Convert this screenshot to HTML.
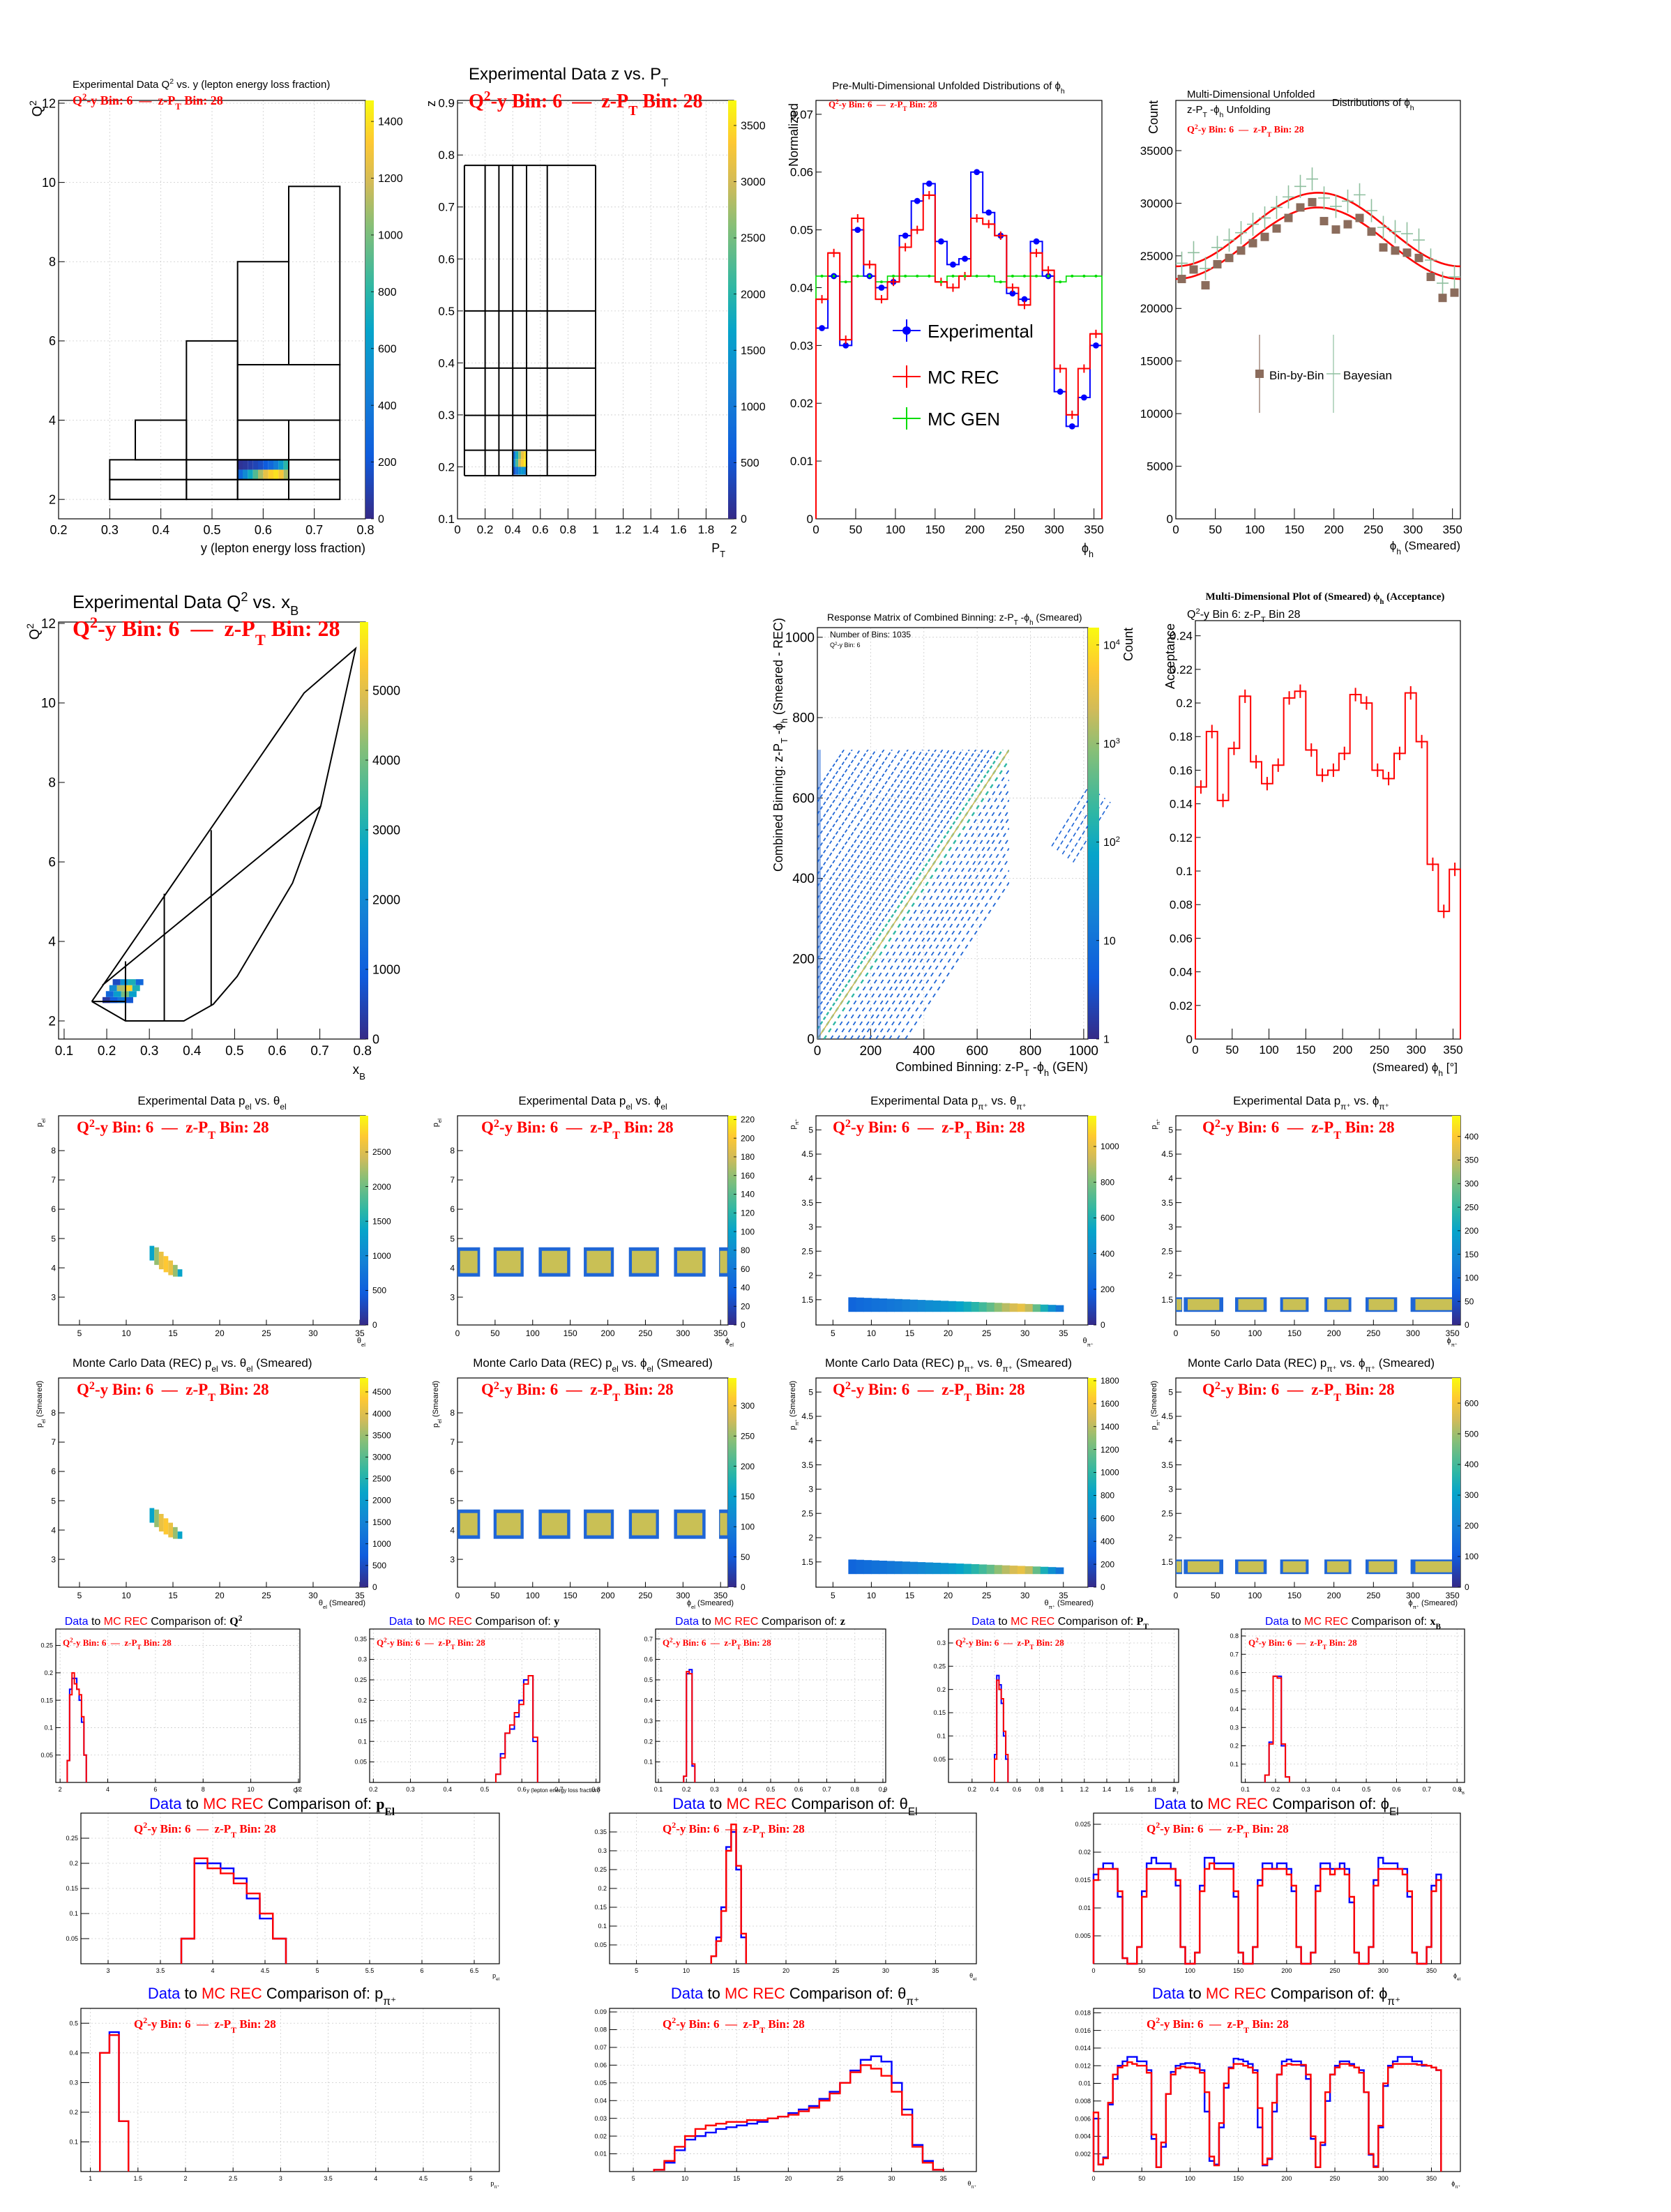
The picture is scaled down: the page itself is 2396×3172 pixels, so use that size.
<!DOCTYPE html>
<html><head><meta charset="utf-8">
<style>
body{margin:0;background:#fff}
svg{display:block}
text{font-family:"Liberation Sans",sans-serif}
.serif{font-family:"Liberation Serif",serif;font-weight:bold}
</style></head>
<body>
<svg id="c" width="2396" height="3172" viewBox="0 0 1198 1586" xmlns="http://www.w3.org/2000/svg">
<defs>
<linearGradient id="bird" x1="0" y1="1" x2="0" y2="0">
<stop offset="0" stop-color="#352a87"/><stop offset="0.15" stop-color="#0f5cdd"/><stop offset="0.3" stop-color="#1481d6"/><stop offset="0.45" stop-color="#06a4ca"/><stop offset="0.55" stop-color="#2eb7a4"/><stop offset="0.7" stop-color="#87bf77"/><stop offset="0.8" stop-color="#d1bb59"/><stop offset="0.9" stop-color="#fec832"/><stop offset="1" stop-color="#f9fb0e"/>
</linearGradient>
</defs>
</svg>
<script>
// ---------------- DATA ----------------
const heatA = [40,60,90,120,160,220,300,420,600,800, 300,500,700,900,1100,1250,1350,1400,1300,1100];
const heatB = [900,1800,2600,3200,3500, 1200,2200,3000,3400,3600, 400,900,1300,1500,1200];
const heatE = [300,900,1500,800, 1200,2500,4000,2600, 2000,4500,5500,3000, 600,2200,3000,1200];
const phiC = [7.5,22.5,37.5,52.5,67.5,82.5,97.5,112.5,127.5,142.5,157.5,172.5,187.5,202.5,217.5,232.5,247.5,262.5,277.5,292.5,307.5,322.5,337.5,352.5];
const expC = [0.033,0.042,0.030,0.050,0.042,0.040,0.041,0.049,0.055,0.058,0.048,0.044,0.045,0.060,0.053,0.049,0.039,0.038,0.048,0.042,0.022,0.016,0.021,0.030];
const recC = [0.038,0.046,0.031,0.052,0.044,0.038,0.041,0.047,0.050,0.056,0.041,0.040,0.042,0.052,0.051,0.049,0.040,0.037,0.046,0.043,0.026,0.018,0.026,0.032];
const genC = [0.042,0.042,0.041,0.042,0.042,0.041,0.042,0.042,0.042,0.042,0.041,0.042,0.042,0.042,0.042,0.041,0.042,0.042,0.042,0.042,0.041,0.042,0.042,0.042];
const bbbD = [22800,23700,22200,24200,24800,25500,26200,26800,27600,28600,29600,30100,28300,27500,28000,28600,27300,25800,25500,25300,24800,23000,21000,21500];
const bayD = [24300,25300,23800,25800,26500,27200,28000,28600,29600,30600,31600,32300,30500,29700,30200,30800,29300,27700,27300,27100,26500,24600,22400,23000];
const fitTop = [27500,-3500];
const fitBot = [26200,-3400];
const accG = [0.150,0.183,0.142,0.173,0.204,0.165,0.152,0.163,0.203,0.207,0.172,0.157,0.160,0.170,0.205,0.200,0.160,0.155,0.170,0.206,0.177,0.104,0.076,0.101];
const respOffsets = [-330,-300,-270,-245,-220,-195,-170,-150,-125,-100,-75,-50,-25,0,25,50,75,100,125,150,175,200,225,250,275,300,325,350,380,410,440,470,500,530,560,590,620];
const elSectors = [[-4,30],[48,88],[108,150],[168,208],[228,268],[288,330]];
const piSectors = [[10,60],[75,115],[132,168],[188,222],[240,280],[297,358]];
const elCols = [[12.5,4.25,4.75],[13,4.1,4.7],[13.5,3.95,4.55],[14,3.85,4.4],[14.5,3.75,4.25],[15,3.7,4.1],[15.5,3.7,3.95]];
const elColVal = [0.5,0.8,0.95,1,0.95,0.8,0.5];
const piBandVal = [0.05,0.08,0.1,0.12,0.13,0.15,0.17,0.2,0.22,0.25,0.28,0.3,0.33,0.37,0.42,0.48,0.55,0.62,0.7,0.8,0.88,0.95,1,0.9,0.7,0.5,0.3,0.15];
const q2Blue=[0.04,0.17,0.19,0.19,0.17,0.15,0.11,0.05], q2Red=[0.04,0.16,0.20,0.18,0.17,0.16,0.12,0.05];
const yBlue=[0.02,0.07,0.12,0.13,0.16,0.2,0.25,0.26,0.1], yRed=[0.02,0.06,0.12,0.14,0.17,0.19,0.24,0.26,0.11];
const zBlue=[0.03,0.53,0.55,0.08], zRed=[0.03,0.54,0.53,0.09];
const ptBlue=[0.06,0.23,0.21,0.17,0.1,0.05], ptRed=[0.05,0.22,0.2,0.18,0.11,0.06];
const xbBlue=[0.04,0.22,0.58,0.58,0.2,0.03], xbRed=[0.04,0.21,0.58,0.57,0.21,0.03];
const pElBlue=[0.05,0.2,0.2,0.19,0.17,0.13,0.09,0.05], pElRed=[0.05,0.21,0.19,0.18,0.16,0.14,0.1,0.05];
const thElBlue=[0.02,0.07,0.15,0.31,0.35,0.25,0.07], thElRed=[0.02,0.06,0.14,0.3,0.37,0.26,0.08];
const phiElBlue=[0.016,0.017,0.018,0.018,0.017,0.012, 0.001,0,0,0.003, 0.013,0.018,0.019,0.018,0.018,0.018,0.017,0.014, 0.003,0,0,0.002, 0.014,0.019,0.019,0.018,0.018,0.018,0.018,0.012, 0.002,0,0,0.003, 0.015,0.018,0.018,0.017,0.018,0.018,0.017,0.013, 0.003,0,0,0.002, 0.014,0.018,0.018,0.017,0.017,0.018,0.017,0.011, 0.002,0,0,0.003, 0.015,0.019,0.018,0.018,0.018,0.017,0.017,0.012, 0.002,0,0,0.003, 0.014,0.016];
const phiElRed=[0.015,0.017,0.017,0.017,0.017,0.013, 0.001,0,0,0.003, 0.012,0.017,0.017,0.017,0.017,0.017,0.017,0.015, 0.003,0,0,0.002, 0.013,0.017,0.018,0.017,0.017,0.017,0.017,0.013, 0.002,0,0,0.003, 0.014,0.017,0.017,0.017,0.017,0.017,0.016,0.014, 0.003,0,0,0.002, 0.013,0.017,0.017,0.016,0.017,0.017,0.016,0.012, 0.002,0,0,0.003, 0.014,0.017,0.017,0.017,0.017,0.017,0.016,0.013, 0.002,0,0,0.003, 0.013,0.015];
const pPiBlue=[0.4,0.47,0.17], pPiRed=[0.4,0.46,0.17];
const thPiBlue=[0.001,0.005,0.012,0.018,0.02,0.022,0.024,0.025,0.026,0.027,0.028,0.03,0.031,0.033,0.035,0.037,0.041,0.045,0.05,0.057,0.063,0.065,0.062,0.05,0.035,0.015,0.006,0.001];
const thPiRed=[0.001,0.006,0.014,0.02,0.024,0.026,0.027,0.028,0.028,0.029,0.029,0.03,0.031,0.032,0.034,0.036,0.04,0.044,0.05,0.056,0.06,0.058,0.054,0.045,0.032,0.014,0.005,0.001];
const phiPiBlue=[0.006,0.0008,0.0016,0.0076,0.0105,0.012,0.0125,0.013,0.013,0.0125,0.0125,0.0115, 0.0037,0.0005,0.0028,0.0088,0.0113,0.012,0.0122,0.0123,0.0123,0.0122,0.0115, 0.0068,0.0012,0.0008,0.005,0.0095,0.0118,0.0128,0.0127,0.0125,0.0122,0.0115, 0.005,0.0007,0.0014,0.0068,0.011,0.0125,0.0127,0.0125,0.0125,0.012,0.0105, 0.0037,0.0005,0.003,0.008,0.011,0.012,0.0125,0.0125,0.0122,0.0118,0.0115, 0.009,0.0019,0.0006,0.005,0.0097,0.012,0.0125,0.013,0.013,0.013,0.0125,0.0125,0.012,0.012,0.0118,0.0115];
const phiPiRed=[0.0067,0.0008,0.0015,0.0078,0.011,0.0118,0.012,0.0124,0.0122,0.012,0.012,0.0112, 0.0042,0.0005,0.0033,0.0088,0.011,0.0117,0.0119,0.0118,0.0118,0.0117,0.0112, 0.009,0.0017,0.0007,0.0055,0.01,0.0117,0.0122,0.0122,0.012,0.0118,0.0112, 0.0072,0.0008,0.0015,0.0078,0.011,0.012,0.0122,0.0121,0.0121,0.0121,0.011, 0.004,0.0005,0.0033,0.009,0.011,0.0118,0.0122,0.0122,0.012,0.0118,0.0112, 0.009,0.002,0.0005,0.0052,0.01,0.0118,0.0122,0.0122,0.0122,0.0122,0.0122,0.0121,0.0121,0.012,0.0118,0.0115];

// ---------------- HELPERS ----------------
const NS='http://www.w3.org/2000/svg';
const svg=document.getElementById('c');
function mk(tag,attrs,name,parent){
  const el=document.createElementNS(NS,tag);
  for(const k in attrs) el.setAttribute(k,attrs[k]);
  
  
  (parent||svg).appendChild(el);
  return el;
}
const SUB=s=>`<tspan baseline-shift="sub" font-size="70%">${s}</tspan><tspan> </tspan>`;
const SUP=s=>`<tspan baseline-shift="super" font-size="70%">${s}</tspan>`;
function txt(x,y,html,size,fill,anchor,name,parent,cls,rot){
  const a={x:x,y:y,'font-size':size,fill:fill||'#000','text-anchor':anchor||'start'};
  if(cls) a['class']=cls;
  if(rot) a.transform=`rotate(-90 ${x} ${y})`;
  const el=mk('text',a,name,parent);
  el.innerHTML=html;
  return el;
}
const STOPS=[[0,[53,42,135]],[0.15,[15,92,221]],[0.3,[20,129,214]],[0.45,[6,164,202]],[0.55,[46,183,164]],[0.7,[135,191,119]],[0.8,[209,187,89]],[0.9,[254,200,50]],[1,[249,251,14]]];
function bird(t){t=Math.max(0,Math.min(1,t));for(let i=1;i<STOPS.length;i++){if(t<=STOPS[i][0]){const a=STOPS[i-1],b=STOPS[i],f=(t-a[0])/(b[0]-a[0]);const c=a[1].map((v,k)=>Math.round(v+(b[1][k]-v)*f));return `rgb(${c})`;}}return 'rgb(249,251,14)';}
const redSub=`Q${SUP('2')}-y Bin: 6\u00a0\u00a0—\u00a0\u00a0z-P${SUB('T')}Bin: 28`;

function panel(o){
  const g=mk('g',{},o.name);
  const X=v=>o.x0+(v-o.xmin)/(o.xmax-o.xmin)*(o.x1-o.x0);
  const Y=o.log?(v=>o.y1-(Math.log10(v)-Math.log10(o.ymin))/(Math.log10(o.ymax)-Math.log10(o.ymin))*(o.y1-o.y0)):(v=>o.y1-(v-o.ymin)/(o.ymax-o.ymin)*(o.y1-o.y0));
  const fs=o.fs||8;
  if(o.grid){
    (o.xt||[]).forEach(v=>mk('line',{x1:X(v),x2:X(v),y1:o.y0,y2:o.y1,stroke:'#ccc','stroke-width':0.4,'stroke-dasharray':'1,1.5'},'grid-line-x',g));
    (o.yt||[]).forEach(v=>mk('line',{x1:o.x0,x2:o.x1,y1:Y(v),y2:Y(v),stroke:'#ccc','stroke-width':0.4,'stroke-dasharray':'1,1.5'},'grid-line-y',g));
  }
  mk('rect',{x:o.x0,y:o.y0,width:o.x1-o.x0,height:o.y1-o.y0,fill:'none',stroke:'#000','stroke-width':0.6},'plot-frame',g);
  const tl=(o.y1-o.y0)*0.025, tlx=(o.x1-o.x0)*0.02;
  (o.xt||[]).forEach((v,i)=>{
    mk('line',{x1:X(v),x2:X(v),y1:o.y1,y2:o.y1-tl,stroke:'#000','stroke-width':0.5},'x-tick',g);
    if(o.xl!==false) txt(X(v),o.y1+fs+2,(o.xlab?o.xlab[i]:String(v)),fs,'#000','middle','x-tick-label',g);
  });
  (o.yt||[]).forEach((v,i)=>{
    mk('line',{x1:o.x0,x2:o.x0+tlx,y1:Y(v),y2:Y(v),stroke:'#000','stroke-width':0.5},'y-tick',g);
    txt(o.x0-2,Y(v)+fs*0.35,(o.ylab?o.ylab[i]:String(v)),fs,'#000','end','y-tick-label',g);
  });
  return {g,X,Y,o};
}
function stepPath(P,start,w,vals){
  let d=`M${P.X(start)},${P.Y(0)}`;
  vals.forEach((v,i)=>{const a=start+i*w;d+=`L${P.X(a)},${P.Y(v)}L${P.X(a+w)},${P.Y(v)}`;});
  d+=`L${P.X(start+vals.length*w)},${P.Y(0)}`;
  return d;
}
function hist(P,start,w,vals,color,name,sw){
  return mk('path',{d:stepPath(P,start,w,vals),fill:'none',stroke:color,'stroke-width':sw||1},name,P.g);
}
function cbar(x,y0,y1,w,ticks,max,name,fs,log,min){
  const g=mk('g',{},name);
  mk('rect',{x:x,y:y0,width:w,height:y1-y0,fill:'url(#bird)'},'color-bar',g);
  ticks.forEach(t=>{
    const yy=log?(y1-(Math.log10(t.v)-Math.log10(min))/(Math.log10(max)-Math.log10(min))*(y1-y0)):(y1-t.v/max*(y1-y0));
    mk('line',{x1:x+w-2,x2:x+w,y1:yy,y2:yy,stroke:'#000','stroke-width':0.4},'color-bar-tick',g);
    txt(x+w+3,yy+(fs||7)*0.35,t.l,fs||7,'#000','start','color-bar-label',g);
  });
}
function cmpTitle(x,y,varHtml,size,name){
  txt(x,y,`<tspan fill="#0000ff">Data</tspan><tspan> to </tspan><tspan fill="#ff0000">MC REC</tspan><tspan> Comparison of: </tspan>${varHtml}`,size,'#000','middle',name);
}
const rng=(a,b,s)=>{const r=[];for(let v=a;v<=b+1e-9;v+=s)r.push(+v.toFixed(6));return r;};

// ---------------- PANEL A ----------------
{
  const P=panel({name:'panel-q2-vs-y',x0:42,x1:262,y0:72,y1:372,xmin:0.2,xmax:0.8,ymin:1.51,ymax:12.07,xt:rng(0.2,0.8,0.1),yt:rng(2,12,2),fs:9,grid:true});
  heatA.forEach((v,i)=>{const c=i%10,r=Math.floor(i/10);const xl=0.55+c*0.01;const yl=r===0?2.75:2.5;
    mk('rect',{x:P.X(xl),y:P.Y(yl+0.25),width:P.X(xl+0.01)-P.X(xl),height:P.Y(yl)-P.Y(yl+0.25),fill:bird(v/1474)},'heat-cell',P.g);});
  const rects=[[0.3,0.45,2,2.5],[0.45,0.55,2,2.5],[0.55,0.65,2,2.5],[0.65,0.75,2,2.5],[0.3,0.45,2.5,3],[0.45,0.55,2.5,3],[0.55,0.65,2.5,3],[0.65,0.75,2.5,3],[0.35,0.45,3,4],[0.45,0.55,3,6],[0.55,0.65,3,4],[0.65,0.75,3,4],[0.55,0.75,4,5.4],[0.55,0.65,5.4,8],[0.65,0.75,5.4,9.9]];
  rects.forEach(r=>mk('rect',{x:P.X(r[0]),y:P.Y(r[3]),width:P.X(r[1])-P.X(r[0]),height:P.Y(r[2])-P.Y(r[3]),fill:'none',stroke:'#000','stroke-width':1},'bin-boundary',P.g));
  cbar(262,72,372,6,rng(0,1400,200).map(v=>({v,l:String(v)})),1474,'colorbar-q2-y',8);
  txt(52,63,`Experimental Data Q${SUP('2')} vs. y (lepton energy loss fraction)`,7.5,'#000','start','title-q2-y');
  txt(52,75,redSub,9,'#ff0000','start','subtitle-bins','', 'serif');
  txt(30,72,`Q${SUP('2')}`,10,'#000','end','y-axis-title','', '',true);
  txt(262,396,'y (lepton energy loss fraction)',9,'#000','end','x-axis-title');
}
// ---------------- PANEL B ----------------
{
  const P=panel({name:'panel-z-vs-pt',x0:328,x1:526,y0:72,y1:372,xmin:0,xmax:2,ymin:0.1,ymax:0.905,xt:rng(0,2,0.2),xlab:['0','0.2','0.4','0.6','0.8','1','1.2','1.4','1.6','1.8','2'],yt:rng(0.1,0.9,0.1),fs:8.5,grid:true});
  heatB.forEach((v,i)=>{const c=i%5,r=Math.floor(i/5);const xl=0.4+c*0.02;const zl=0.215-r*0.015;
    mk('rect',{x:P.X(xl),y:P.Y(zl+0.015),width:P.X(xl+0.02)-P.X(xl),height:P.Y(zl)-P.Y(zl+0.015),fill:bird(v/3723)},'heat-cell',P.g);});
  const ptB=[0.05,0.2,0.3,0.4,0.5,0.65,1.0], zB=[0.183,0.232,0.299,0.39,0.5,0.78];
  ptB.forEach(v=>mk('line',{x1:P.X(v),x2:P.X(v),y1:P.Y(0.183),y2:P.Y(0.78),stroke:'#000','stroke-width':1},'bin-boundary',P.g));
  zB.forEach(v=>mk('line',{x1:P.X(0.05),x2:P.X(1),y1:P.Y(v),y2:P.Y(v),stroke:'#000','stroke-width':1},'bin-boundary',P.g));
  cbar(522,72,372,6,rng(0,3500,500).map(v=>({v,l:String(v)})),3723,'colorbar-z-pt',8);
  txt(336,57,`Experimental Data z vs. P${SUB('T')}`,12,'#000','start','title-z-pt');
  txt(336,77,redSub,14,'#ff0000','start','subtitle-bins','', 'serif');
  txt(312,72,'z',9,'#000','end','y-axis-title','','',true);
  txt(520,396,`P${SUB('T')}`,9,'#000','end','x-axis-title');
}
// ---------------- PANEL C ----------------
{
  const P=panel({name:'panel-phi-h-preunfold',x0:585,x1:790,y0:72,y1:372,xmin:0,xmax:360,ymin:0,ymax:0.0724,xt:rng(0,350,50),yt:rng(0,0.07,0.01),fs:8.5,ylab:['0','0.01','0.02','0.03','0.04','0.05','0.06','0.07']});
  const w=15;
  hist(P,0,w,genC,'#00dd00','series-mc-gen',0.8);
  hist(P,0,w,expC,'#0000ff','series-experimental',1);
  hist(P,0,w,recC,'#ff0000','series-mc-rec',1);
  phiC.forEach((c,i)=>{
    mk('circle',{cx:P.X(c),cy:P.Y(expC[i]),r:2.2,fill:'#0000ff'},'point-experimental',P.g);
    mk('line',{x1:P.X(c-7.5),x2:P.X(c+7.5),y1:P.Y(recC[i]),y2:P.Y(recC[i]),stroke:'#ff0000','stroke-width':1},'point-mc-rec',P.g);
    mk('line',{x1:P.X(c),x2:P.X(c),y1:P.Y(recC[i])-3,y2:P.Y(recC[i])+3,stroke:'#ff0000','stroke-width':1},'errbar-mc-rec',P.g);
    mk('circle',{cx:P.X(c),cy:P.Y(genC[i]),r:1,fill:'#00dd00'},'point-mc-gen',P.g);
  });
  const leg=[['Experimental','#0000ff',237],['MC REC','#ff0000',270],['MC GEN','#00dd00',300]];
  leg.forEach(l=>{mk('line',{x1:640,x2:660,y1:l[2],y2:l[2],stroke:l[1],'stroke-width':1},'legend-line',P.g);
    mk('line',{x1:650,x2:650,y1:l[2]-8,y2:l[2]+8,stroke:l[1],'stroke-width':1},'legend-errbar',P.g);
    if(l[1]==='#0000ff') mk('circle',{cx:650,cy:l[2],r:3,fill:l[1]},'legend-marker',P.g);
    txt(665,l[2]+5,l[0],13,'#000','start','legend-entry',P.g);});
  txt(680,64,`Pre-Multi-Dimensional Unfolded Distributions of ϕ${SUB('h')}`,7.5,'#000','middle','title-phi-pre');
  txt(594,77,redSub,6.5,'#ff0000','start','subtitle-bins','', 'serif');
  txt(572,74,'Normalized',9,'#000','end','y-axis-title','','',true);
  txt(784,396,`ϕ${SUB('h')}`,9,'#000','end','x-axis-title');
}
// ---------------- PANEL D ----------------
{
  const P=panel({name:'panel-phi-h-unfolded',x0:843,x1:1047,y0:72,y1:372,xmin:0,xmax:360,ymin:0,ymax:39773,xt:rng(0,350,50),yt:rng(0,35000,5000),fs:8.5});
  const curve=(f,name)=>{let d='';for(let k=0;k<=72;k++){const ph=k*5;const v=f[0]+f[1]*Math.cos(ph*Math.PI/180);d+=(k?'L':'M')+P.X(ph)+','+P.Y(v);}mk('path',{d,fill:'none',stroke:'#ff0000','stroke-width':1.3},name,P.g);};
  curve(fitTop,'fit-curve-bayesian'); curve(fitBot,'fit-curve-bin-by-bin');
  phiC.forEach((c,i)=>{
    mk('line',{x1:P.X(c-7.5),x2:P.X(c+7.5),y1:P.Y(bayD[i]),y2:P.Y(bayD[i]),stroke:'#8fbf9f','stroke-width':0.8},'point-bayesian',P.g);
    mk('line',{x1:P.X(c),x2:P.X(c),y1:P.Y(bayD[i]+1100),y2:P.Y(bayD[i]-1100),stroke:'#8fbf9f','stroke-width':0.8},'errbar-bayesian',P.g);
    mk('rect',{x:P.X(c)-3,y:P.Y(bbbD[i])-3,width:6,height:6,fill:'#8b6c5c'},'point-bin-by-bin',P.g);
  });
  mk('line',{x1:903,x2:903,y1:240,y2:296,stroke:'#8b6c5c','stroke-width':0.6},'legend-errbar',P.g);
  mk('rect',{x:900,y:265,width:6,height:6,fill:'#8b6c5c'},'legend-marker-bin-by-bin',P.g);
  txt(910,272,'Bin-by-Bin',8.5,'#000','start','legend-entry',P.g);
  mk('line',{x1:956,x2:956,y1:240,y2:296,stroke:'#8fbf9f','stroke-width':0.6},'legend-errbar',P.g);
  mk('line',{x1:951,x2:961,y1:268,y2:268,stroke:'#8fbf9f','stroke-width':0.8},'legend-marker-bayesian',P.g);
  txt(963,272,'Bayesian',8.5,'#000','start','legend-entry',P.g);
  txt(851,70,'Multi-Dimensional Unfolded',7.5,'#000','start','title-unfold-1');
  txt(955,76,`Distributions of ϕ${SUB('h')}`,7.5,'#000','start','title-unfold-2');
  txt(851,81,`z-P${SUB('T')}-ϕ${SUB('h')} Unfolding`,7.5,'#000','start','title-unfold-3');
  txt(851,95,redSub,7,'#ff0000','start','subtitle-bins','', 'serif');
  txt(830,72,'Count',9,'#000','end','y-axis-title','','',true);
  txt(1047,394,`ϕ${SUB('h')} (Smeared)`,8.5,'#000','end','x-axis-title');
}
// ---------------- PANEL E ----------------
{
  const P=panel({name:'panel-q2-vs-xb',x0:42,x1:262,y0:446,y1:745,xmin:0.087,xmax:0.807,ymin:1.544,ymax:12.035,xt:rng(0.1,0.8,0.1),yt:rng(2,12,2),fs:9.5});
  heatE.forEach((v,i)=>{const c=i%4,r=Math.floor(i/4);const xl=0.19+c*0.018+r*0.008;const ql=2.45+r*0.15;
    mk('rect',{x:P.X(xl),y:P.Y(ql+0.15),width:P.X(xl+0.018)-P.X(xl),height:P.Y(ql)-P.Y(ql+0.15),fill:bird(v/5980)},'heat-cell',P.g);});
  const outer=[[0.165,2.49],[0.663,10.25],[0.784,11.37],[0.702,7.4],[0.636,5.47],[0.506,3.12],[0.45,2.42],[0.381,2.0],[0.244,2.0],[0.165,2.49]];
  mk('path',{d:outer.map((p,i)=>(i?'L':'M')+P.X(p[0])+','+P.Y(p[1])).join(''),fill:'none',stroke:'#000','stroke-width':1},'bin-boundary-outer',P.g);
  const lines=[[[0.19,2.9],[0.702,7.4]],[[0.244,2.0],[0.244,3.5]],[[0.335,2.0],[0.335,5.2]],[[0.445,2.4],[0.445,6.8]],[[0.165,2.49],[0.244,2.49]]];
  lines.forEach(l=>mk('line',{x1:P.X(l[0][0]),y1:P.Y(l[0][1]),x2:P.X(l[1][0]),y2:P.Y(l[1][1]),stroke:'#000','stroke-width':1},'bin-boundary',P.g));
  cbar(258,446,745,6,rng(0,5000,1000).map(v=>({v,l:String(v)})),5980,'colorbar-q2-xb',9);
  txt(52,436,`Experimental Data Q${SUP('2')} vs. x${SUB('B')}`,13,'#000','start','title-q2-xb');
  txt(52,456,redSub,16,'#ff0000','start','subtitle-bins','', 'serif');
  txt(28,447,`Q${SUP('2')}`,10,'#000','end','y-axis-title','','',true);
  txt(262,770,`x${SUB('B')}`,9.5,'#000','end','x-axis-title');
}
// ---------------- PANEL F ----------------
{
  const P=panel({name:'panel-response-matrix',x0:586,x1:780,y0:450,y1:745,xmin:0,xmax:1016,ymin:0,ymax:1024,xt:rng(0,1000,200),yt:rng(0,1000,200),fs:9.5,grid:true});
  const cp=mk('clipPath',{id:'respclip'},'response-clip',P.g);
  mk('rect',{x:P.X(0),y:P.Y(720),width:P.X(720)-P.X(0),height:P.Y(0)-P.Y(720)},'response-clip-rect',cp);
  const gg=mk('g',{'clip-path':'url(#respclip)'},'response-stripes',P.g);
  respOffsets.forEach(off=>{
    const near=Math.abs(off)<30;
    mk('line',{x1:P.X(Math.max(0,-off)),y1:P.Y(Math.max(0,-off)+off),x2:P.X(720),y2:P.Y(720+off),stroke:near?'#2eb7a4':'#1f66d6','stroke-width':near?1.2:0.9,'stroke-dasharray':off>0?'2.5,1.5':'3,3'},'response-stripe',gg);
  });
  mk('line',{x1:P.X(0),y1:P.Y(0),x2:P.X(720),y2:P.Y(720),stroke:'#d1bb59','stroke-width':0.8},'response-diagonal',gg);
  [[880,480],[900,470],[920,460],[940,450],[960,440]].forEach(s=>mk('line',{x1:P.X(s[0]),y1:P.Y(s[1]),x2:P.X(s[0]+140),y2:P.Y(s[1]+150),stroke:'#1f66d6','stroke-width':0.8,'stroke-dasharray':'3,2'},'response-stripe-right',P.g));
  mk('rect',{x:P.X(0),y:P.Y(720),width:2.5,height:P.Y(0)-P.Y(720),fill:'#1f66d6',opacity:0.45},'response-edge-column',P.g);
  cbar(780,450,745,8,[{v:1,l:'1'},{v:10,l:'10'},{v:100,l:`10${SUP('2')}`},{v:1000,l:`10${SUP('3')}`},{v:10000,l:`10${SUP('4')}`}],15000,'colorbar-response',8,true,1);
  txt(812,450,'Count',9,'#000','end','colorbar-title','','',true);
  txt(593,445,`Response Matrix of Combined Binning: z-P${SUB('T')}-ϕ${SUB('h')} (Smeared)`,7,'#000','start','title-response');
  txt(595,457,'Number of Bins: 1035',6,'#000','start','note-number-of-bins');
  txt(595,464,`Q${SUP('2')}-y Bin: 6`,4.5,'#000','start','note-q2y-bin');
  txt(561,625,`Combined Binning: z-P${SUB('T')}-ϕ${SUB('h')} (Smeared - REC)`,9,'#000','start','y-axis-title','','',true);
  txt(780,768,`Combined Binning: z-P${SUB('T')}-ϕ${SUB('h')} (GEN)`,9,'#000','end','x-axis-title');
}
// ---------------- PANEL G ----------------
{
  const P=panel({name:'panel-acceptance',x0:857,x1:1047,y0:445,y1:745,xmin:0,xmax:360,ymin:0,ymax:0.249,xt:rng(0,350,50),yt:rng(0,0.24,0.02),fs:8.5,ylab:['0','0.02','0.04','0.06','0.08','0.1','0.12','0.14','0.16','0.18','0.2','0.22','0.24']});
  hist(P,0,15,accG,'#ff0000','series-acceptance',1);
  phiC.forEach((c,i)=>mk('line',{x1:P.X(c),x2:P.X(c),y1:P.Y(accG[i]+0.004),y2:P.Y(accG[i]-0.004),stroke:'#ff0000','stroke-width':1},'errbar-acceptance',P.g));
  txt(950,430,`Multi-Dimensional Plot of (Smeared) ϕ${SUB('h')} (Acceptance)`,7.5,'#000','middle','title-acceptance','','serif');
  txt(851,443,`Q${SUP('2')}-y Bin 6: z-P${SUB('T')} Bin 28`,8,'#000','start','subtitle-acceptance');
  txt(842,447,'Acceptance',9,'#000','end','y-axis-title','','',true);
  txt(1045,768,`(Smeared) ϕ${SUB('h')} [°]`,8.5,'#000','end','x-axis-title');
}
// ---------------- ROWS 3 & 4 ----------------
function elTheta(P){elCols.forEach((c,i)=>mk('rect',{x:P.X(c[0]),y:P.Y(c[2]),width:P.X(c[0]+0.5)-P.X(c[0]),height:P.Y(c[1])-P.Y(c[2]),fill:bird(elColVal[i]*0.9)},'heat-cell',P.g));}
function sectors(P,secs,plo,phi,name){secs.forEach(s=>{
  mk('rect',{x:P.X(Math.max(0,s[0])),y:P.Y(phi),width:P.X(s[1])-P.X(Math.max(0,s[0])),height:P.Y(plo)-P.Y(phi),fill:'#1f66d6'},name,P.g);
  const m=(s[1]-s[0])*0.1, pm=(phi-plo)*0.12;
  mk('rect',{x:P.X(Math.max(0,s[0])+m),y:P.Y(phi-pm),width:P.X(s[1]-m)-P.X(Math.max(0,s[0])+m),height:P.Y(plo+pm)-P.Y(phi-pm),fill:'#c9c055'},name+'-core',P.g);
});}
function piBand(P){piBandVal.forEach((v,i)=>{const th=7+i;const lo=1.25, hi=1.55-i*0.006;
  mk('rect',{x:P.X(th),y:P.Y(hi),width:P.X(th+1)-P.X(th)+0.3,height:P.Y(lo)-P.Y(hi),fill:bird(0.15+v*0.7)},'heat-cell',P.g);});}
const pElYT=[3,4,5,6,7,8], pPiYT=[1.5,2,2.5,3,3.5,4,4.5,5];
function row(y0,isMC){
  const y1=y0+150, tag=isMC?'mc':'data', sm=isMC?' (Smeared)':'';
  const titleY=y0-8, subY=y0+12;
  let P=panel({name:`panel-${tag}-pel-vs-thetael`,x0:42,x1:262,y0,y1,xmin:2.76,xmax:35.6,ymin:2.05,ymax:9.19,xt:rng(5,35,5),yt:pElYT,fs:6});
  elTheta(P);
  cbar(258,y0,y1,6,rng(0,isMC?4500:2500,500).map(v=>({v,l:String(v)})),isMC?4821:3024,`colorbar-${tag}-a`,6);
  txt(isMC?52:152,titleY,(isMC?'Monte Carlo Data (REC) ':'Experimental Data ')+`p${SUB('el')} vs. θ${SUB('el')}${sm}`,8.5,'#000',isMC?'start':'middle',`title-${tag}-pel-thetael`);
  txt(55,subY,redSub,11.5,'#ff0000','start','subtitle-bins','','serif');
  txt(30,y0+2,`p${SUB('el')}${sm}`,5.5,'#000','end','y-axis-title','','',true);
  txt(262,y1+13,`θ${SUB('el')}${sm}`,5.5,'#000','end','x-axis-title');
  P=panel({name:`panel-${tag}-pel-vs-phiel`,x0:328,x1:522,y0,y1,xmin:0,xmax:360,ymin:2.05,ymax:9.19,xt:rng(0,350,50),yt:pElYT,fs:6});
  sectors(P,elSectors.concat([[348,360]]),3.7,4.7,'sector-block');
  cbar(522,y0,y1,6,rng(0,isMC?300:220,isMC?50:20).map(v=>({v,l:String(v)})),isMC?346:224,`colorbar-${tag}-b`,6);
  txt(425,titleY,(isMC?'Monte Carlo Data (REC) ':'Experimental Data ')+`p${SUB('el')} vs. ϕ${SUB('el')}${sm}`,8.5,'#000','middle',`title-${tag}-pel-phiel`);
  txt(345,subY,redSub,11.5,'#ff0000','start','subtitle-bins','','serif');
  txt(314,y0+2,`p${SUB('el')}${sm}`,5.5,'#000','end','y-axis-title','','',true);
  txt(526,y1+13,`ϕ${SUB('el')}${sm}`,5.5,'#000','end','x-axis-title');
  P=panel({name:`panel-${tag}-ppi-vs-thetapi`,x0:585,x1:780,y0,y1,xmin:2.79,xmax:38.2,ymin:0.98,ymax:5.29,xt:rng(5,35,5),yt:pPiYT,fs:6});
  piBand(P);
  cbar(780,y0,y1,6,rng(0,isMC?1800:1000,200).map(v=>({v,l:String(v)})),isMC?1824:1172,`colorbar-${tag}-c`,6);
  txt(680,titleY,(isMC?'Monte Carlo Data (REC) ':'Experimental Data ')+`p${SUB('π⁺')} vs. θ${SUB('π⁺')}${sm}`,8.5,'#000','middle',`title-${tag}-ppi-thetapi`);
  txt(597,subY,redSub,11.5,'#ff0000','start','subtitle-bins','','serif');
  txt(570,y0+2,`p${SUB('π⁺')}${sm}`,5.5,'#000','end','y-axis-title','','',true);
  txt(784,y1+13,`θ${SUB('π⁺')}${sm}`,5.5,'#000','end','x-axis-title');
  P=panel({name:`panel-${tag}-ppi-vs-phipi`,x0:843,x1:1047,y0,y1,xmin:0,xmax:360,ymin:0.98,ymax:5.29,xt:rng(0,350,50),yt:pPiYT,fs:6});
  sectors(P,[[0,8]].concat(piSectors),1.25,1.55,'sector-block');
  cbar(1041,y0,y1,6,rng(0,isMC?600:400,isMC?100:50).map(v=>({v,l:String(v)})),isMC?682:444,`colorbar-${tag}-d`,6);
  txt(940,titleY,(isMC?'Monte Carlo Data (REC) ':'Experimental Data ')+`p${SUB('π⁺')} vs. ϕ${SUB('π⁺')}${sm}`,8.5,'#000','middle',`title-${tag}-ppi-phipi`);
  txt(862,subY,redSub,11.5,'#ff0000','start','subtitle-bins','','serif');
  txt(829,y0+2,`p${SUB('π⁺')}${sm}`,5.5,'#000','end','y-axis-title','','',true);
  txt(1045,y1+13,`ϕ${SUB('π⁺')}${sm}`,5.5,'#000','end','x-axis-title');
}
row(800,false);
row(988,true);

// ---------------- ROW 5 ----------------
function small(o,start,w,blue,red,title,cx,xlabel){
  const P=panel(Object.assign({y0:1168,y1:1278,ymin:0,fs:4.5,grid:true},o));
  hist(P,start,w,blue,'#0000ff','series-data',1);
  hist(P,start,w,red,'#ff0000','series-mc-rec',1);
  cmpTitle(cx,1165,title,8,'title-'+o.name);
  txt(o.x0+5,1180,redSub,6.5,'#ff0000','start','subtitle-bins',P.g,'serif');
  txt(o.x1,1285,xlabel,4,'#000','end','x-axis-title',P.g);
}
small({name:'cmp-q2',x0:40,x1:215,xmin:1.82,xmax:12.06,ymax:0.28,xt:rng(2,12,2),yt:rng(0.05,0.25,0.05)},2.3,0.1,q2Blue,q2Red,`<tspan class="serif">Q${SUP('2')}</tspan>`,110,`Q${SUP('2')}`);
small({name:'cmp-y',x0:265,x1:430,xmin:0.19,xmax:0.81,ymax:0.374,xt:rng(0.2,0.8,0.1),yt:rng(0.05,0.35,0.05)},0.53,0.0125,yBlue,yRed,'<tspan class="serif"> y</tspan>',340,'y (lepton energy loss fraction)');
small({name:'cmp-z',x0:470,x1:635,xmin:0.09,xmax:0.91,ymax:0.748,xt:rng(0.1,0.9,0.1),yt:rng(0.1,0.7,0.1)},0.19,0.01,zBlue,zRed,'<tspan class="serif"> z</tspan>',545,'z');
small({name:'cmp-pt',x0:680,x1:845,xmin:-0.01,xmax:2.04,ymax:0.33,xt:rng(0.2,2,0.2),yt:rng(0.05,0.3,0.05)},0.40,0.02,ptBlue,ptRed,`<tspan class="serif">P${SUB('T')}</tspan>`,760,`P${SUB('T')}`);
small({name:'cmp-xb',x0:890,x1:1050,xmin:0.087,xmax:0.825,ymax:0.838,xt:rng(0.1,0.8,0.1),yt:rng(0.1,0.8,0.1)},0.165,0.0135,xbBlue,xbRed,`<tspan class="serif">x${SUB('B')}</tspan>`,970,`x${SUB('B')}`);

// ---------------- ROWS 6-7 ----------------
function big(o,start,w,blue,red,title,cx,ty,xlabel){
  const P=panel(Object.assign({fs:4.5,grid:true},o));
  hist(P,start,w,blue,'#0000ff','series-data',1.2);
  hist(P,start,w,red,'#ff0000','series-mc-rec',1.2);
  cmpTitle(cx,ty,title,11,'title-'+o.name);
  txt(o.x0+38,o.y0+14,redSub,8.5,'#ff0000','start','subtitle-bins',P.g,'serif');
  txt(o.x1,o.y1+10,xlabel,4.5,'#000','end','x-axis-title',P.g);
}
big({name:'cmp-pel',x0:58,x1:358,y0:1300,y1:1408,xmin:2.74,xmax:6.74,ymin:0,ymax:0.3,xt:rng(3,6.5,0.5),yt:rng(0.05,0.25,0.05)},3.7,0.125,pElBlue,pElRed,`<tspan class="serif">p${SUB('El')}</tspan>`,195,1297,`p${SUB('el')}`);
big({name:'cmp-thetael',x0:437,x1:700,y0:1300,y1:1408,xmin:2.3,xmax:39.1,ymin:0,ymax:0.4,xt:rng(5,35,5),yt:rng(0.05,0.35,0.05)},12.5,0.5,thElBlue,thElRed,`θ${SUB('El')}`,570,1297,`θ${SUB('el')}`);
big({name:'cmp-phiel',x0:784,x1:1047,y0:1300,y1:1408,xmin:0,xmax:380,ymin:0,ymax:0.027,xt:rng(0,350,50),yt:rng(0.005,0.025,0.005)},0,5,phiElBlue,phiElRed,`ϕ${SUB('El')}`,915,1297,`ϕ${SUB('el')}`);
big({name:'cmp-ppi',x0:58,x1:358,y0:1440,y1:1557,xmin:0.9,xmax:5.3,ymin:0,ymax:0.55,xt:rng(1,5,0.5),yt:rng(0.1,0.5,0.1)},1.1,0.1,pPiBlue,pPiRed,`p${SUB('π⁺')}`,195,1433,`p${SUB('π⁺')}`);
big({name:'cmp-thetapi',x0:437,x1:700,y0:1440,y1:1557,xmin:2.7,xmax:38.2,ymin:0,ymax:0.092,xt:rng(5,35,5),yt:rng(0.01,0.09,0.01)},7,1,thPiBlue,thPiRed,`θ${SUB('π⁺')}`,570,1433,`θ${SUB('π⁺')}`);
big({name:'cmp-phipi',x0:784,x1:1047,y0:1440,y1:1557,xmin:0,xmax:380,ymin:0,ymax:0.0185,xt:rng(0,350,50),yt:rng(0.002,0.018,0.002)},0,5,phiPiBlue,phiPiRed,`ϕ${SUB('π⁺')}`,915,1433,`ϕ${SUB('π⁺')}`);
</script>
</body></html>
